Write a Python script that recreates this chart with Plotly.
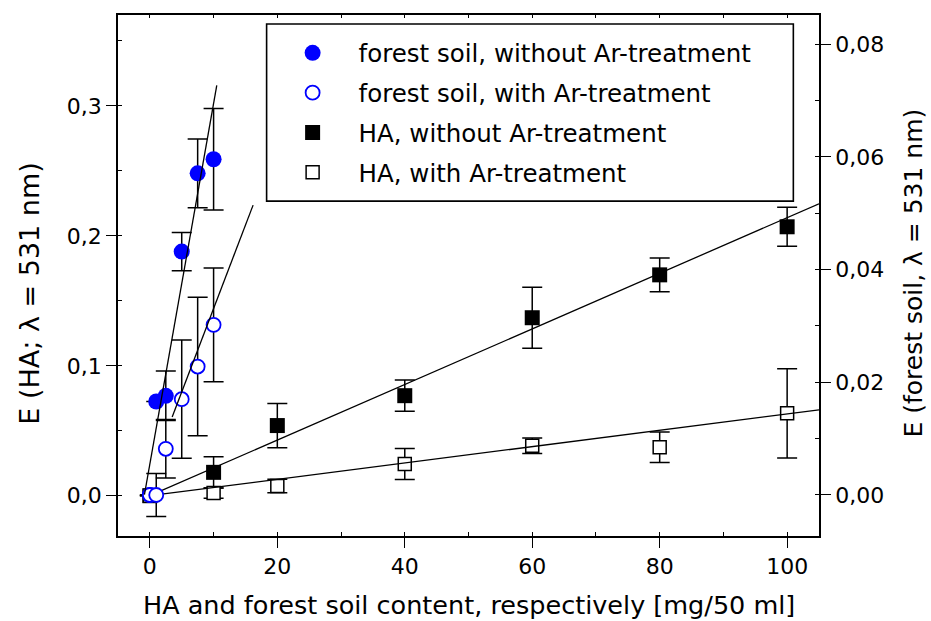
import plotly.graph_objects as go

# HA standards, plotted against the left axis
ha_content = [0, 10, 20, 40, 60, 80, 100]
ha_without = [0.0, 0.018, 0.054, 0.077, 0.137, 0.170, 0.207]
ha_without_err = [0.0, 0.012, 0.017, 0.012, 0.0235, 0.013, 0.015]
ha_with = [0.0, 0.002, 0.0075, 0.0244, 0.0385, 0.0373, 0.0634]
ha_with_err = [0.0, 0.004, 0.0052, 0.012, 0.006, 0.0117, 0.0344]

# forest soil samples, plotted against the right axis
soil_content = [0, 1, 2.5, 5, 7.5, 10]
soil_without = [0.0, 0.0166, 0.0176, 0.0432, 0.0571, 0.0596]
soil_without_err = [0.0, 0.0, 0.0044, 0.0034, 0.0061, 0.0090]
soil_with = [0.0, 0.0, 0.0082, 0.0170, 0.0228, 0.0302]
soil_with_err = [0.0, 0.0038, 0.0052, 0.0105, 0.0123, 0.0101]

# linear calibration fits: (slope, intercept, x_start, x_end)
fit_ha_without = (0.00214, 0.0, 0.0, 105.0)
fit_ha_with = (0.00063, 0.0, 0.0, 105.0)
fit_soil_without = (0.0064, 0.0055, -0.85, 10.5)
fit_soil_with = (0.00296, 0.0035, 3.5, 16.2)

x_ticks = [0, 20, 40, 60, 80, 100]
left_ticks = [0.0, 0.1, 0.2, 0.3]
right_ticks = [0.0, 0.02, 0.04, 0.06, 0.08]

FONT = "DejaVu Sans"
BLUE = "#0000ff"


def err(values):
    return dict(type="data", array=values, visible=True, color="black",
                thickness=1.5, width=10)


def fit_line(fit, yaxis):
    slope, intercept, x0, x1 = fit
    xs = [x0, x1]
    return go.Scatter(x=xs, y=[slope * v + intercept for v in xs], mode="lines",
                      line=dict(color="black", width=1.3), showlegend=False,
                      hoverinfo="skip", yaxis=yaxis)


fig = go.Figure()

# soil series live on the overlaid right axis, so they render above the HA set
fig.add_trace(go.Scatter(
    x=soil_content, y=soil_without, mode="markers",
    name="forest soil, without Ar-treatment", yaxis="y2",
    marker=dict(symbol="circle", size=16, color=BLUE),
    error_y=err(soil_without_err), legendgroup="a"))
fig.add_trace(go.Scatter(
    x=soil_content, y=soil_with, mode="markers",
    name="forest soil, with Ar-treatment", yaxis="y2",
    marker=dict(symbol="circle", size=14, color="white",
                line=dict(color=BLUE, width=1.8)),
    error_y=err(soil_with_err), legendgroup="b"))
fig.add_trace(fit_line(fit_soil_without, "y2"))
fig.add_trace(fit_line(fit_soil_with, "y2"))

fig.add_trace(go.Scatter(
    x=ha_content, y=ha_without, mode="markers", name="HA, without Ar-treatment",
    marker=dict(symbol="square", size=15, color="black"),
    error_y=err(ha_without_err), legendgroup="c"))
fig.add_trace(go.Scatter(
    x=ha_content, y=ha_with, mode="markers", name="HA, with Ar-treatment",
    marker=dict(symbol="square", size=13, color="white",
                line=dict(color="black", width=1.5)),
    error_y=err(ha_with_err), legendgroup="d"))
fig.add_trace(fit_line(fit_ha_without, "y"))
fig.add_trace(fit_line(fit_ha_with, "y"))

# empty trace so the top frame axis gets drawn
fig.add_trace(go.Scatter(x=[None], y=[None], xaxis="x2", showlegend=False,
                         hoverinfo="skip"))

axis_common = dict(showline=True, linecolor="black", linewidth=1.5,
                   showgrid=False, zeroline=False, ticks="outside",
                   ticklen=10, tickwidth=1.3, tickcolor="black",
                   tickfont=dict(family=FONT, size=22, color="black"))

fig.update_layout(
    width=931, height=621,
    margin=dict(l=118, r=112, t=15, b=85),
    paper_bgcolor="white", plot_bgcolor="white",
    separators=",.",
    font=dict(family=FONT, color="black"),
    xaxis=dict(range=[-5, 105], tickvals=x_ticks, **axis_common,
               minor=dict(dtick=10, ticks="inside", ticklen=4,
                          tickcolor="black")),
    xaxis2=dict(range=[-5, 105], overlaying="x", side="top", showline=True,
                linecolor="black", linewidth=1.5, showgrid=False,
                zeroline=False, ticks="inside", ticklen=3, dtick=10, tick0=0,
                tickcolor="black", showticklabels=False),
    yaxis=dict(range=[-0.031, 0.370], tickvals=left_ticks, tickformat=".1f",
               **axis_common,
               minor=dict(dtick=0.05, ticks="inside", ticklen=4,
                          tickcolor="black")),
    yaxis2=dict(range=[-0.00728, 0.0852], tickvals=right_ticks,
                tickformat=".2f", overlaying="y", side="right",
                **axis_common,
                minor=dict(dtick=0.01, ticks="inside", ticklen=4,
                           tickcolor="black")),
    legend=dict(x=0.212, xanchor="left", y=0.9705, yanchor="top",
                bgcolor="rgba(0,0,0,0)", borderwidth=0, itemwidth=82,
                tracegroupgap=5, traceorder="grouped",
                font=dict(family=FONT, size=24.5, color="black")),
    shapes=[dict(type="rect", xref="paper", yref="paper",
                 x0=0.212, x1=0.9634, y0=0.6427, y1=0.9827,
                 line=dict(color="black", width=1.6), fillcolor="white",
                 layer="below")],
    annotations=[
        dict(text="HA and forest soil content, respectively [mg/50 ml]",
             xref="paper", yref="paper", x=0.5, y=-0.133, showarrow=False,
             xanchor="center", yanchor="middle",
             font=dict(family=FONT, size=25.5, color="black")),
        dict(text="E (HA; λ = 531 nm)", xref="paper", yref="paper",
             x=-0.126, y=0.4645, textangle=-90, showarrow=False,
             xanchor="center", yanchor="middle",
             font=dict(family=FONT, size=27, color="black")),
        dict(text="E (forest soil, λ = 531 nm)", xref="paper", yref="paper",
             x=1.135, y=0.505, textangle=-90, showarrow=False,
             xanchor="center", yanchor="middle",
             font=dict(family=FONT, size=25, color="black")),
    ],
)

fig.write_html("out.html")
